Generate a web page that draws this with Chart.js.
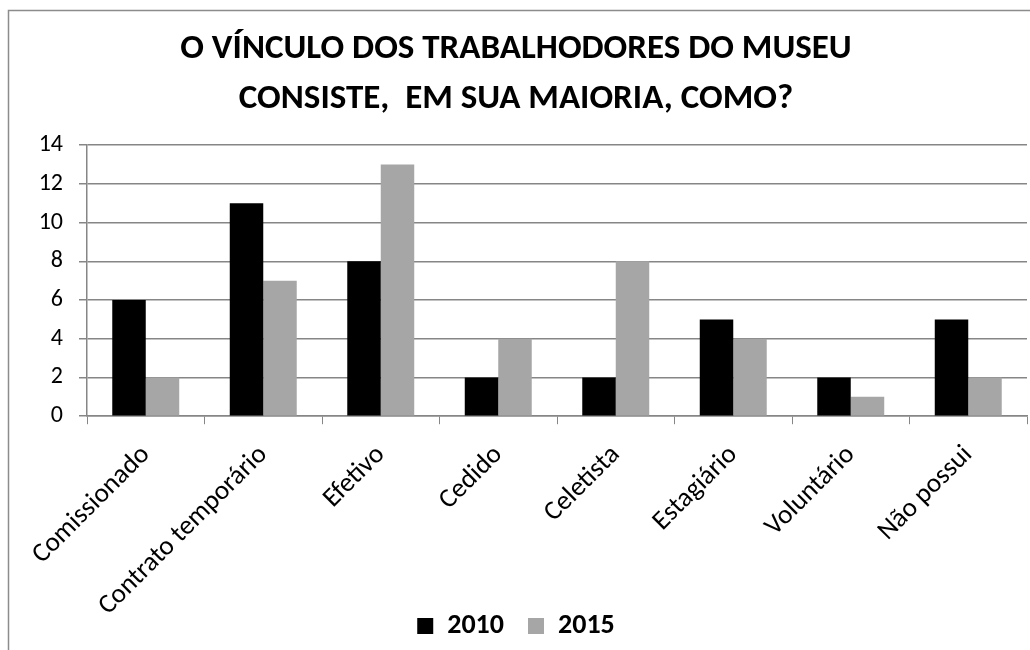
<!doctype html>
<html>
<head>
	<meta charset="utf-8">
	<title>Vínculo dos trabalhadores</title>
	<style>
		body { margin: 0; background: #fff; }
		#holder { position: relative; width: 1030px; height: 650px; }
	</style>
</head>
<body>
	<div id="holder">
		<canvas id="chart-area"></canvas>
	</div>
	<script src="https://cdn.jsdelivr.net/npm/chart.js@4/dist/chart.umd.min.js"></script>
	<script>
	var categorias = ['Comissionado', 'Contrato temporário', 'Efetivo', 'Cedido', 'Celetista', 'Estagiário', 'Voluntário', 'Não possui'];
	var valores2010 = [6, 11, 8, 2, 2, 5, 2, 5];
	var valores2015 = [2, 7, 13, 4, 8, 4, 1, 2];
	var titulo = ['O VÍNCULO DOS TRABALHODORES DO MUSEU', 'CONSISTE,  EM SUA MAIORIA, COMO?'];

	var fonte = 'Carlito, Lato, "Open Sans", sans-serif';

	// moldura cinza em volta do gráfico
	var moldura = {
		id: 'moldura',
		beforeDraw: function(chart) {
			var ctx = chart.ctx;
			ctx.save();
			ctx.fillStyle = '#fff';
			ctx.fillRect(0, 0, chart.width, chart.height);
			ctx.strokeStyle = '#8c8c8c';
			ctx.lineWidth = 1.5;
			ctx.strokeRect(8.5, 10.5, chart.width + 10, chart.height + 10);
			ctx.restore();
		}
	};

	var config = {
		type: 'bar',
		data: {
			labels: categorias,
			datasets: [{
				label: '2010',
				data: valores2010,
				backgroundColor: '#000000',
				barPercentage: 1,
				categoryPercentage: 0.57
			}, {
				label: '2015',
				data: valores2015,
				backgroundColor: '#a6a6a6',
				barPercentage: 1,
				categoryPercentage: 0.57
			}]
		},
		options: {
			responsive: true,
			maintainAspectRatio: false,
			animation: false,
			layout: { padding: { left: 5, right: 3, top: 14, bottom: 0 } },
			plugins: {
				title: {
					display: true,
					text: titulo,
					color: '#000',
					font: { family: fonte, size: 35, weight: 'bold', lineHeight: 1.43 },
					padding: { top: 10, bottom: 21 }
				},
				legend: {
					position: 'bottom',
					labels: {
						color: '#000',
						font: { family: fonte, size: 28, weight: 'bold' },
						boxWidth: 16,
						boxHeight: 16,
						padding: 24
					}
				},
				tooltip: { enabled: false }
			},
			scales: {
				x: {
					// os rótulos inclinados podem invadir o espaço da legenda (sem recorte)
					afterFit: function(scale) {
						scale.height -= 49;
						scale._computeLabelArea = function() {};
					},
					grid: { drawOnChartArea: false, drawTicks: true, tickLength: 8, color: '#868686' },
					border: { color: '#868686', width: 1.5 },
					ticks: {
						color: '#000',
						font: { family: fonte, size: 27 },
						minRotation: 45,
						maxRotation: 45,
						padding: 15
					}
				},
				y: {
					min: 0,
					max: 14,
					afterFit: function(scale) { scale.width = 82; },
					ticks: {
						stepSize: 2,
						color: '#000',
						font: { family: fonte, size: 24 },
						padding: 16
					},
					grid: { color: '#868686', lineWidth: 1.5, tickLength: 8 },
					border: { color: '#868686', width: 1.5 }
				}
			}
		},
		plugins: [moldura]
	};

	var ctx = document.getElementById('chart-area').getContext('2d');
	window.myBar = new Chart(ctx, config);
	</script>
</body>
</html>
